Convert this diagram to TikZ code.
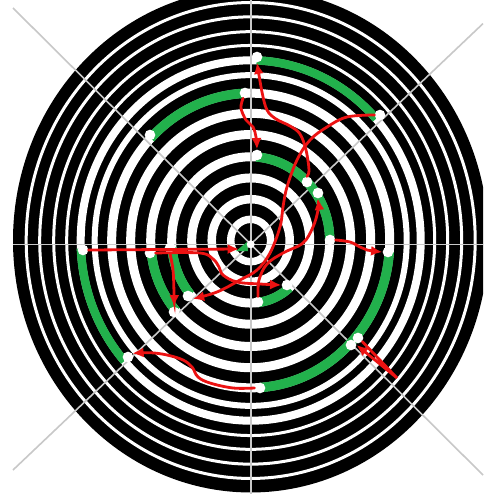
\documentclass[tikz,border=0pt]{standalone}
\usetikzlibrary{arrows.meta}
\definecolor{mazegreen}{RGB}{34,177,76}
\definecolor{arrred}{RGB}{236,18,18}
\definecolor{gridgray}{RGB}{200,200,200}
\begin{document}
\begin{tikzpicture}[x=0.75pt,y=-0.75pt,
  dot/.style={circle,fill=white,inner sep=0pt,minimum size=8pt},
  cdot/.style={circle,fill=white,inner sep=0pt,minimum size=6pt},
  arr/.style={draw=arrred,line width=2.1pt,line cap=round,-{Latex[length=8.5pt,width=7.5pt]}},
  gridline/.style={draw=gridgray,line width=1.2pt},
  garc/.style={draw=mazegreen}]
\useasboundingbox (0,0) rectangle (483,496);
\fill[white] (0,0) rectangle (483,496);
% rings
\begin{scope}
\clip (0,0) rectangle (483,496);
\begin{scope}[shift={(250.7,240.5)},yscale=-1.06]
\fill[black] (0,0) circle[radius=237.7];
\foreach \r/\w in {20/7.5,39/8.5,59/9,79/9,100/9,120/9,139/9,156/6,170/8,184/3,197/3,211/3,224.5/3}
  \draw[white,line width=\w*0.75pt] (0,0) circle[radius=\r];
\end{scope}
\end{scope}
% grid lines
\draw[gridline] (250.7,0) -- (250.7,494);
\draw[gridline] (13,244.3) -- (483,244.3);
\draw[gridline] (13,8) -- (483,475);
\draw[gridline] (483,23.6) -- (13,470);
% green arcs
\begin{scope}[shift={(250.7,240.5)},yscale=-1.06]
\draw[garc,line width=8.5*0.75pt] (42.5:170) arc[start angle=42.5,end angle=88,radius=170];
\draw[garc,line width=9.5*0.75pt] (92:139) arc[start angle=92,end angle=136,radius=139];
\draw[garc,line width=9.5*0.75pt] (1:79) arc[start angle=1,end angle=86,radius=79];
\draw[garc,line width=9.5*0.75pt] (-86:139) arc[start angle=-86,end angle=-4.5,radius=139];
\draw[garc,line width=8.5*0.75pt] (182.5:170) arc[start angle=182.5,end angle=222,radius=170];
\draw[garc,line width=9.5*0.75pt] (186.5:100) arc[start angle=186.5,end angle=221.5,radius=100];
\draw[garc,line width=9.5*0.75pt] (185:79) arc[start angle=185,end angle=220,radius=79];
\draw[garc,line width=9.5*0.75pt] (-83:59) arc[start angle=-83,end angle=-49,radius=59];
\end{scope}
\fill[mazegreen] (236,251) -- (247,242) -- (248,251) -- cycle;
% dots
\node[dot] (d1) at (257,57) {};
\node[dot] (d2) at (380,115) {};
\node[dot] (d3) at (245,93) {};
\node[dot] (d4) at (150,135) {};
\node[dot] (d5) at (257,155) {};
\node[dot] (d6) at (307,182) {};
\node[dot] (d7) at (318,193) {};
\node[dot] (d8) at (330,240) {};
\node[dot] (d9) at (388,252) {};
\node[dot] (d10) at (358,338) {};
\node[dot] (d11) at (351,345) {};
\node[dot] (d12) at (260,388) {};
\node[dot] (d13) at (128,357) {};
\node[dot] (d14) at (83,250) {};
\node[dot] (d15) at (150,253) {};
\node[dot] (d16) at (170,248) {};
\node[dot] (d17) at (188,296) {};
\node[dot] (d18) at (174,312) {};
\node[dot] (d19) at (258,302) {};
\node[dot] (d20) at (287,285) {};
\node[cdot] (ctr) at (250.7,244.3) {};
\coordinate (ftip) at (239,249);
\coordinate (jtip) at (397,378);
% arrows
\draw[arr] plot[smooth,tension=0.6] coordinates {(d3.250) (241,108) (246,120) (253,127) (256,137) (d5.north)};
\draw[arr] plot[smooth,tension=0.6] coordinates {(d6.north) (309,170) (306,150) (300,134) (290,126) (276,119) (267,110) (262,92) (d1.south)};
\draw[arr] plot[smooth,tension=0.6] coordinates {(d2.west) (347,117) (327,127) (310,140) (297,160) (287,187) (283,207) (280,227) (270,253) (257,270) (240,280) (217,292) (d17.-30)};
\draw[arr] plot[smooth,tension=0.6] coordinates {(d19.north) (259,280) (267,264) (283,253) (303,243) (313,227) (318,210) (d7.south)};
\draw[arr] plot[smooth,tension=0.6] coordinates {(d8.east) (350,242) (360,247) (367,250) (d9.west)};
\draw[arr] (d14.east) -- (ftip);
\draw[arr] plot[smooth,tension=0.6] coordinates {(d16.south) (173,270) (174,293) (d18.north)};
\draw[arr] plot[smooth,tension=0.6] coordinates {(d15.east) (200,253) (213,259) (219,267) (223,275) (237,282) (260,284) (d20.west)};
\draw[arr] plot[smooth,tension=0.6] coordinates {(d12.west) (233,388) (210,383) (198,377) (192,367) (183,360) (167,355) (150,352.7) (d13.40)};
\draw[arr] (d10.-40) -- (jtip) -- (d11.east);
\end{tikzpicture}
\end{document}
